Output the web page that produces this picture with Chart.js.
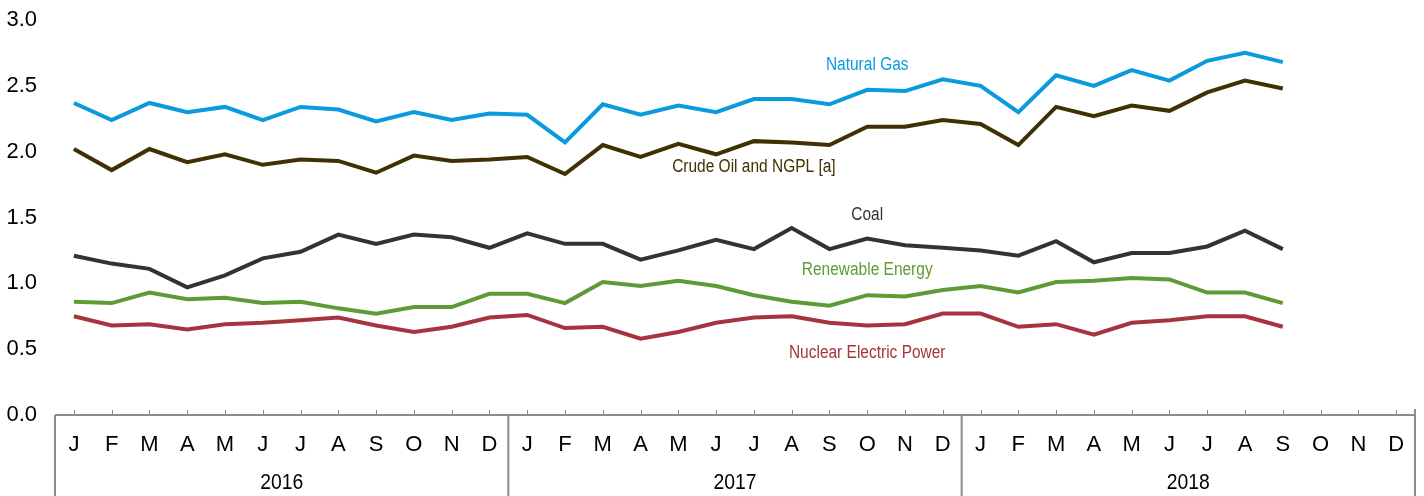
<!DOCTYPE html>
<html>
<head>
<meta charset="utf-8">
<script src="https://cdn.jsdelivr.net/npm/chart.js@4/dist/chart.umd.min.js"></script>
<style>
  html, body { margin: 0; padding: 0; background: #fff; }
  #wrap { width: 1424px; height: 496px; }
</style>
</head>
<body>
<div id="wrap"><canvas id="myChart" width="1424" height="496"></canvas></div>
<script>
// monthly values, Jan 2016 - Sep 2018 (quadrillion Btu)
const months = ['J','F','M','A','M','J','J','A','S','O','N','D'];
const years = ['2016', '2017', '2018'];
const yTicks = [0, 0.5, 1.0, 1.5, 2.0, 2.5, 3.0];

const naturalGas = [2.37,2.24,2.37,2.30,2.34,2.24,2.34,2.32,2.23,2.30,2.24,2.29,
                    2.28,2.07,2.36,2.28,2.35,2.30,2.40,2.40,2.36,2.47,2.46,2.55,
                    2.50,2.30,2.58,2.50,2.62,2.54,2.69,2.75,2.68];
const crudeOil   = [2.02,1.86,2.02,1.92,1.98,1.90,1.94,1.93,1.84,1.97,1.93,1.94,
                    1.96,1.83,2.05,1.96,2.06,1.98,2.08,2.07,2.05,2.19,2.19,2.24,
                    2.21,2.05,2.34,2.27,2.35,2.31,2.45,2.54,2.48];
const coal       = [1.21,1.15,1.11,0.97,1.06,1.19,1.24,1.37,1.30,1.37,1.35,1.27,
                    1.38,1.30,1.30,1.18,1.25,1.33,1.26,1.42,1.26,1.34,1.29,1.27,
                    1.25,1.21,1.32,1.16,1.23,1.23,1.28,1.40,1.26];
const renewable  = [0.86,0.85,0.93,0.88,0.89,0.85,0.86,0.81,0.77,0.82,0.82,0.92,
                    0.92,0.85,1.01,0.98,1.02,0.98,0.91,0.86,0.83,0.91,0.90,0.95,
                    0.98,0.93,1.01,1.02,1.04,1.03,0.93,0.93,0.85];
const nuclear    = [0.75,0.68,0.69,0.65,0.69,0.70,0.72,0.74,0.68,0.63,0.67,0.74,
                    0.76,0.66,0.67,0.58,0.63,0.70,0.74,0.75,0.70,0.68,0.69,0.77,
                    0.77,0.67,0.69,0.61,0.70,0.72,0.75,0.75,0.67];

const labels = [];
years.forEach(() => months.forEach(m => labels.push(m)));

const FONT = "'Liberation Sans Narrow', 'Arial Narrow', 'Liberation Sans', Arial, sans-serif";

const series = [
  {name: 'Natural Gas', data: naturalGas, color: '#0a9bdc', at: [21, 2.66]},
  {name: 'Crude Oil and NGPL [a]', data: crudeOil, color: '#3f3104', at: [18, 1.88]},
  {name: 'Coal', data: coal, color: '#333333', at: [21, 1.52]},
  {name: 'Renewable Energy', data: renewable, color: '#5d9b35', at: [21, 1.10]},
  {name: 'Nuclear Electric Power', data: nuclear, color: '#a6343f', at: [21, 0.47]}
];

// narrow text: squeeze horizontally since no condensed face is installed
function narrowText(ctx, text, x, y, squeeze) {
  ctx.save();
  ctx.translate(x, y);
  ctx.scale(squeeze, 1);
  ctx.fillText(text, 0, 0);
  ctx.restore();
}

// series names written next to the lines
const lineLabels = {
  id: 'lineLabels',
  afterDatasetsDraw(chart) {
    const ctx = chart.ctx;
    const xs = chart.scales.x, ys = chart.scales.y;
    ctx.save();
    ctx.font = '18px ' + FONT;
    ctx.textAlign = 'center';
    ctx.textBaseline = 'middle';
    series.forEach(s => {
      ctx.fillStyle = s.color;
      narrowText(ctx, s.name, xs.getPixelForValue(s.at[0]), ys.getPixelForValue(s.at[1]), 0.86);
    });
    ctx.restore();
  }
};

// axis line, inner ticks, year separators and year names
const yearAxis = {
  id: 'yearAxis',
  afterDraw(chart) {
    const ctx = chart.ctx;
    const xs = chart.scales.x;
    const area = chart.chartArea;
    const base = area.bottom;
    ctx.save();
    ctx.strokeStyle = '#8c8c8c';
    ctx.lineWidth = 2;
    ctx.beginPath();
    ctx.moveTo(area.left, base);
    ctx.lineTo(area.right, base);
    ctx.stroke();
    ctx.lineWidth = 1;
    ctx.beginPath();
    for (let i = 0; i < labels.length; i++) {
      const x = Math.round(xs.getPixelForValue(i)) + 0.5;
      ctx.moveTo(x, base);
      ctx.lineTo(x, base - 5);
    }
    ctx.stroke();
    ctx.lineWidth = 2;
    ctx.beginPath();
    for (let k = 0; k <= years.length; k++) {
      let x;
      if (k === 0) x = area.left;
      else if (k === years.length) x = area.right;
      else x = (xs.getPixelForValue(k * 12 - 1) + xs.getPixelForValue(k * 12)) / 2;
      ctx.moveTo(x, k === years.length ? base - 6 : base);
      ctx.lineTo(x, chart.height);
    }
    ctx.stroke();
    ctx.fillStyle = '#000';
    ctx.font = '22px ' + FONT;
    ctx.textAlign = 'center';
    ctx.textBaseline = 'middle';
    years.forEach((y, k) => {
      const x = (xs.getPixelForValue(k * 12) + xs.getPixelForValue(k * 12 + 11)) / 2;
      narrowText(ctx, y, x, 483, 0.88);
    });
    ctx.restore();
  }
};

new Chart(document.getElementById('myChart').getContext('2d'), {
  type: 'line',
  data: {
    labels: labels,
    datasets: series.map(s => ({
      label: s.name,
      data: s.data,
      borderColor: s.color,
      backgroundColor: s.color,
      borderWidth: 4,
      pointRadius: 0,
      tension: 0,
      fill: false
    }))
  },
  options: {
    responsive: false,
    animation: false,
    devicePixelRatio: 1,
    layout: {padding: {top: 20, right: 9, left: 0, bottom: 0}},
    plugins: {legend: {display: false}, tooltip: {enabled: false}},
    scales: {
      x: {
        offset: true,
        grid: {display: false, drawTicks: false},
        border: {display: false},
        ticks: {
          autoSkip: false, maxRotation: 0, padding: 17,
          color: '#000', font: {family: FONT, size: 22}
        },
        afterFit: s => { s.height = 81; }
      },
      y: {
        min: 0, max: 3,
        afterBuildTicks: s => { s.ticks = yTicks.map(v => ({value: v})); },
        // hidden tick marks give the label gap without padding the top
        grid: {display: false, drawTicks: true, tickLength: 18},
        border: {display: false},
        ticks: {
          padding: 0, color: '#000',
          font: {family: FONT, size: 22},
          callback: v => Number(v).toFixed(1)
        },
        afterFit: s => { s.width = 55; }
      }
    }
  },
  plugins: [lineLabels, yearAxis]
});
</script>
</body>
</html>
